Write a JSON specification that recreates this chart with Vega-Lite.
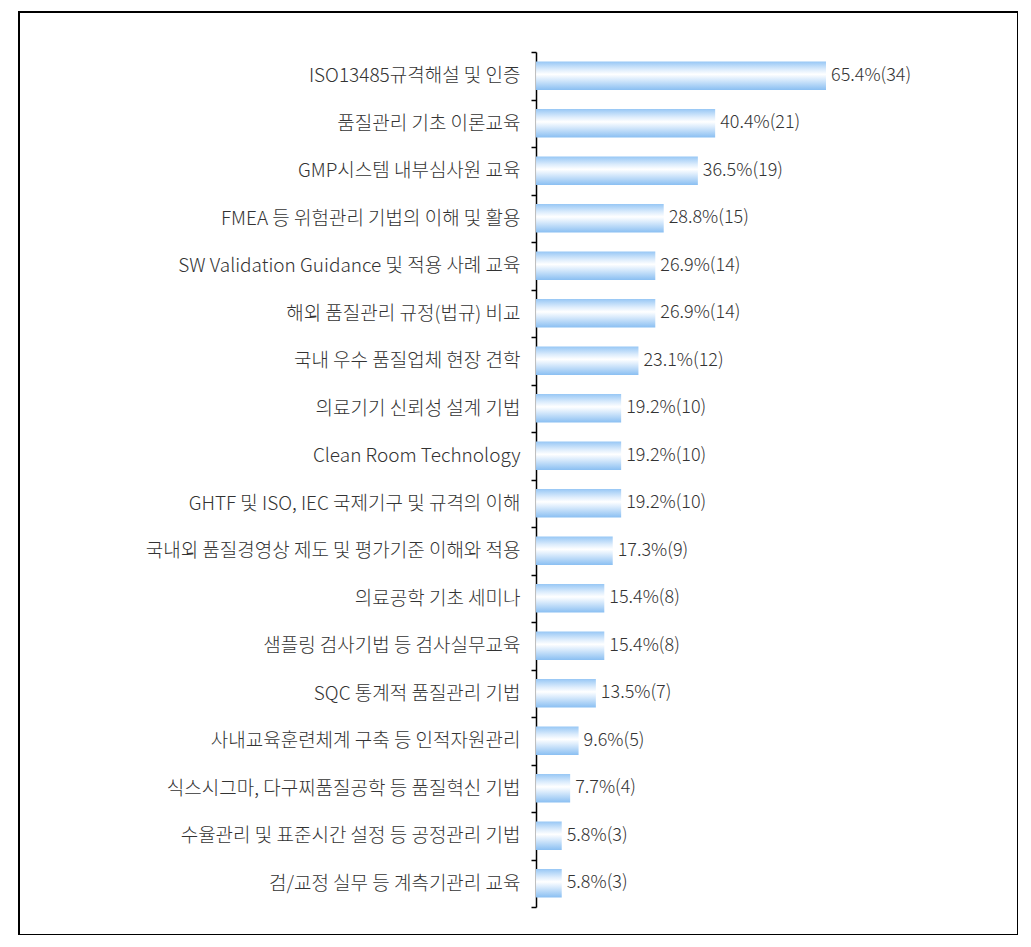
{
  "$schema": "https://vega.github.io/schema/vega-lite/v6.json",
  "width": 999,
  "height": 923,
  "autosize": "none",
  "padding": {"left": 19, "top": 12, "right": 0, "bottom": 0},
  "background": "white",
  "config": {"view": {"stroke": "black", "strokeWidth": 2}},
  "data": {"values": [
    {"item": "ISO13485규격해설 및 인증", "pct": 65.4, "label": "65.4%(34)"},
    {"item": "품질관리 기초 이론교육", "pct": 40.4, "label": "40.4%(21)"},
    {"item": "GMP시스템 내부심사원 교육", "pct": 36.5, "label": "36.5%(19)"},
    {"item": "FMEA 등 위험관리 기법의 이해 및 활용", "pct": 28.8, "label": "28.8%(15)"},
    {"item": "SW Validation Guidance 및 적용 사례 교육", "pct": 26.9, "label": "26.9%(14)"},
    {"item": "해외 품질관리 규정(법규) 비교", "pct": 26.9, "label": "26.9%(14)"},
    {"item": "국내 우수 품질업체 현장 견학", "pct": 23.1, "label": "23.1%(12)"},
    {"item": "의료기기 신뢰성 설계 기법", "pct": 19.2, "label": "19.2%(10)"},
    {"item": "Clean Room Technology", "pct": 19.2, "label": "19.2%(10)"},
    {"item": "GHTF 및 ISO, IEC 국제기구 및 규격의 이해", "pct": 19.2, "label": "19.2%(10)"},
    {"item": "국내외 품질경영상 제도 및 평가기준 이해와 적용", "pct": 17.3, "label": "17.3%(9)"},
    {"item": "의료공학 기초 세미나", "pct": 15.4, "label": "15.4%(8)"},
    {"item": "샘플링 검사기법 등 검사실무교육", "pct": 15.4, "label": "15.4%(8)"},
    {"item": "SQC 통계적 품질관리 기법", "pct": 13.5, "label": "13.5%(7)"},
    {"item": "사내교육훈련체계 구축 등 인적자원관리", "pct": 9.6, "label": "9.6%(5)"},
    {"item": "식스시그마, 다구찌품질공학 등 품질혁신 기법", "pct": 7.7, "label": "7.7%(4)"},
    {"item": "수율관리 및 표준시간 설정 등 공정관리 기법", "pct": 5.8, "label": "5.8%(3)"},
    {"item": "검/교정 실무 등 계측기관리 교육", "pct": 5.8, "label": "5.8%(3)"}
  ]},
  "encoding": {
    "y": {
      "field": "item", "type": "nominal", "sort": null,
      "scale": {"range": [40, 895], "paddingInner": 0, "paddingOuter": 0},
      "axis": {
        "title": null, "offset": -517, "tickBand": "extent", "tickSize": 5,
        "domainColor": "black", "tickColor": "black", "domainWidth": 1.5, "tickWidth": 1.5,
        "labelFont": "Noto Sans CJK KR", "labelFontSize": 19, "labelFontWeight": 300, "labelColor": "#333333",
        "labelPadding": 11, "labelLimit": 600
      }
    }
  },
  "layer": [
    {
      "mark": {
        "type": "bar", "height": {"band": 0.6},
        "color": {
          "gradient": "linear", "x1": 0, "y1": 0, "x2": 0, "y2": 1,
          "stops": [
            {"offset": 0, "color": "#97c7f5"},
            {"offset": 0.28, "color": "#dcecfc"},
            {"offset": 0.45, "color": "#ffffff"},
            {"offset": 0.62, "color": "#dcecfc"},
            {"offset": 1, "color": "#8abff2"}
          ]
        }
      },
      "encoding": {
        "x": {"field": "pct", "type": "quantitative",
              "scale": {"domain": [-116.6, 108.7], "zero": false, "nice": false},
              "axis": null},
        "x2": {"datum": 0}
      }
    },
    {
      "mark": {"type": "text", "align": "left", "baseline": "middle", "dx": 5,
               "font": "Noto Sans CJK KR", "fontSize": 18, "fontWeight": 300, "color": "#333333"},
      "encoding": {
        "x": {"field": "pct", "type": "quantitative"},
        "text": {"field": "label"}
      }
    }
  ]
}
